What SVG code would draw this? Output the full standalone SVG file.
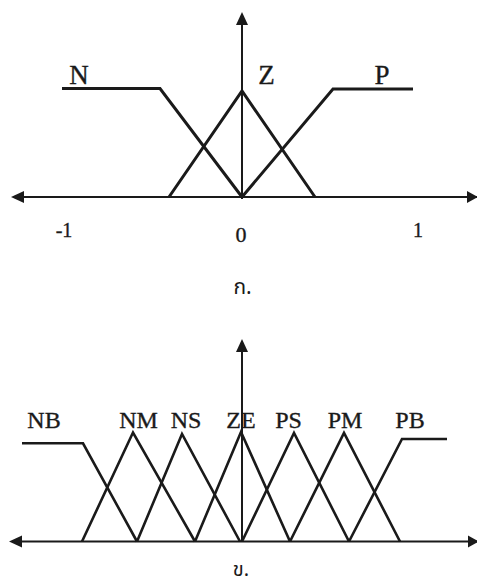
<svg xmlns="http://www.w3.org/2000/svg" width="477" height="585" viewBox="0 0 477 585">
  <style>
    .axis { stroke: #1a1a1a; stroke-width: 2; fill: none; }
    .mf { stroke: #1a1a1a; stroke-width: 3; fill: none; stroke-linejoin: miter; }
    .mf2 { stroke: #1a1a1a; stroke-width: 2.6; fill: none; stroke-linejoin: miter; }
    .head { fill: #1a1a1a; }
    .lbl { font-family: "Liberation Serif", "Times New Roman", serif; fill: #1a1a1a; stroke: #1a1a1a; stroke-width: 0.35; }
    .thai { font-family: "Noto Sans Thai", "Noto Sans", "DejaVu Sans", sans-serif; fill: #1a1a1a; }
  </style>
  <rect width="477" height="585" fill="#ffffff"/>

  <!-- Panel a: three membership functions N, Z, P -->
  <g id="panel-a">
    <g id="axes-a">
      <line class="axis" x1="22" y1="197" x2="477" y2="197"/>
      <line class="axis" x1="242" y1="22" x2="242" y2="199"/>
      <polygon class="head" points="242,12 236,25 248,25"/>
      <polygon class="head" points="11,197 24,191 24,203"/>
      <polygon class="head" points="478,197 467,191 467,203"/>
    </g>
    <g id="mf-N">
      <polyline class="mf" points="62,88.5 160,88.5 242,197"/>
    </g>
    <g id="mf-Z">
      <polyline class="mf" points="169,197 242,91 315,197"/>
    </g>
    <g id="mf-P">
      <polyline class="mf" points="242,197 333,89 413,89"/>
    </g>
    <g id="labels-a">
      <text class="lbl" x="79" y="84" font-size="27" text-anchor="middle">N</text>
      <text class="lbl" x="266.5" y="84" font-size="27" text-anchor="middle">Z</text>
      <text class="lbl" x="382" y="84" font-size="27" text-anchor="middle">P</text>
      <text class="lbl" x="64" y="237" font-size="20" text-anchor="middle">-1</text>
      <text class="lbl" x="241" y="242" font-size="22" text-anchor="middle">0</text>
      <text class="lbl" x="418" y="237" font-size="20" text-anchor="middle">1</text>
      <text class="thai" x="242.5" y="294" font-size="21" text-anchor="middle">ก.</text>
    </g>
  </g>

  <!-- Panel b: seven membership functions NB .. PB -->
  <g id="panel-b">
    <g id="axes-b">
      <line class="axis" x1="20" y1="541.5" x2="477" y2="541.5"/>
      <line class="axis" x1="242" y1="350" x2="242" y2="542"/>
      <polygon class="head" points="242,339 236,352 248,352"/>
      <polygon class="head" points="9,541.5 22,535.5 22,547.5"/>
      <polygon class="head" points="479,541.5 468,535.5 468,547.5"/>
    </g>
    <g id="mf-NB"><polyline class="mf2" points="22,443.3 83,443.3 137,541.5"/></g>
    <g id="mf-NM"><polyline class="mf2" points="82,541.5 133,432.5 195,541.5"/></g>
    <g id="mf-NS"><polyline class="mf2" points="137,541.5 182,434 240,541.5"/></g>
    <g id="mf-ZE"><polyline class="mf2" points="195,541.5 241,432 290,541.5"/></g>
    <g id="mf-PS"><polyline class="mf2" points="242,541.5 294,433 349,541.5"/></g>
    <g id="mf-PM"><polyline class="mf2" points="290,541.5 344,433 400,541.5"/></g>
    <g id="mf-PB"><polyline class="mf2" points="349,541.5 402,439 447,439"/></g>
    <g id="labels-b">
      <text class="lbl" x="44" y="428" font-size="24" text-anchor="middle">NB</text>
      <text class="lbl" x="138.5" y="428" font-size="24" text-anchor="middle">NM</text>
      <text class="lbl" x="186" y="428" font-size="24" text-anchor="middle">NS</text>
      <text class="lbl" x="241" y="428" font-size="24" text-anchor="middle">ZE</text>
      <text class="lbl" x="288.5" y="428" font-size="24" text-anchor="middle">PS</text>
      <text class="lbl" x="345" y="428" font-size="24" text-anchor="middle">PM</text>
      <text class="lbl" x="410" y="428" font-size="24" text-anchor="middle">PB</text>
      <text class="thai" x="241" y="576" font-size="20" text-anchor="middle">ข.</text>
    </g>
  </g>
</svg>
